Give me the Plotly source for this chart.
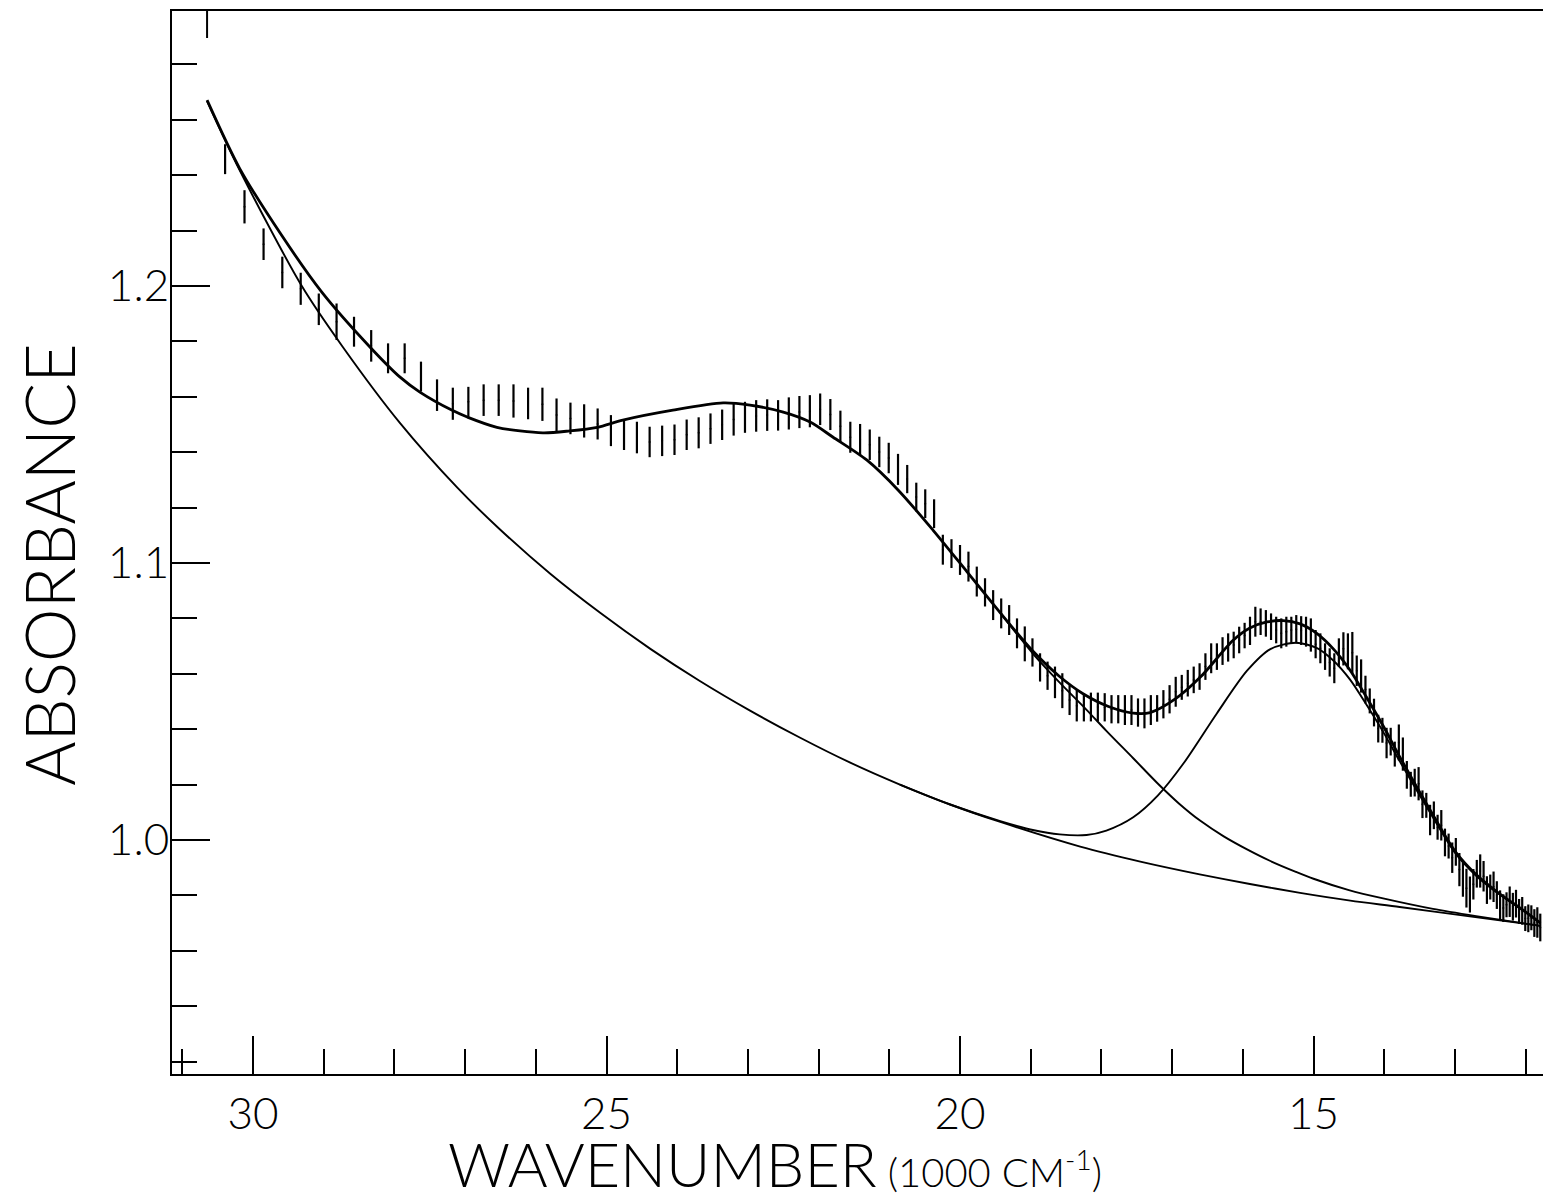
import plotly.graph_objects as go

# ---- measured spectrum: wavelength grid (nm), absorbance and error half-widths ----
wavelength_nm = [
    329, 332, 335, 338, 341, 344, 347, 350, 353, 356, 359, 362, 365, 368, 371,
    374, 377, 380, 383, 386, 389, 392, 395, 398, 401, 404, 407, 410, 413, 416,
    419, 422, 425, 428, 431, 434, 437, 440, 443, 446, 449, 452, 455, 458, 461,
    464, 467, 470, 473, 476, 479, 482, 485, 488, 491, 494, 497, 500, 503, 506,
    509, 512, 515, 518, 521, 524, 527, 530, 533, 536, 539, 542, 545, 548, 551,
    554, 557, 560, 563, 566, 569, 572, 575, 578, 581, 584, 587, 590, 593, 596,
    599, 602, 605, 608, 611, 614, 617, 620, 623, 626, 629, 632, 635, 638, 641,
    644, 647, 650, 653, 656, 659, 662, 665, 668, 671, 674, 677, 680, 683, 686,
    689, 692, 695, 698, 701, 704, 707, 710, 713, 716, 719, 722, 725, 728, 731,
    734, 737, 740, 743, 746, 749, 752, 755, 758, 761, 764, 767, 770, 773, 776,
    779, 782, 785, 788, 791, 794, 797, 800, 803, 806, 809, 812, 815, 818, 821,
    824, 827, 830, 833, 836, 839, 842, 845, 848,
]

absorbance = [
    1.2458, 1.2286, 1.2151, 1.2049, 1.1990, 1.1916, 1.1871, 1.1835, 1.1784, 1.1739,
    1.1739, 1.1673, 1.1606, 1.1575, 1.1582, 1.1588, 1.1588, 1.1585, 1.1576, 1.1573,
    1.1534, 1.1522, 1.1513, 1.1502, 1.1478, 1.1464, 1.1453, 1.1437, 1.1441, 1.1445,
    1.1463, 1.1470, 1.1485, 1.1499, 1.1518, 1.1526, 1.1531, 1.1534, 1.1533, 1.1540,
    1.1545, 1.1548, 1.1555, 1.1536, 1.1494, 1.1454, 1.1446, 1.1427, 1.1401, 1.1379,
    1.1338, 1.1303, 1.1238, 1.1214, 1.1178, 1.1048, 1.1034, 1.1011, 1.0987, 1.0933,
    1.0894, 1.0848, 1.0818, 1.0794, 1.0746, 1.0708, 1.0677, 1.0623, 1.0593, 1.0569,
    1.0539, 1.0505, 1.0485, 1.0479, 1.0480, 1.0480, 1.0479, 1.0472, 1.0472, 1.0469,
    1.0469, 1.0460, 1.0457, 1.0469, 1.0475, 1.0490, 1.0508, 1.0535, 1.0551, 1.0566,
    1.0578, 1.0590, 1.0626, 1.0656, 1.0662, 1.0682, 1.0695, 1.0704, 1.0722, 1.0738,
    1.0755, 1.0788, 1.0788, 1.0782, 1.0770, 1.0758, 1.0746, 1.0752, 1.0758, 1.0761,
    1.0756, 1.0752, 1.0740, 1.0707, 1.0692, 1.0662, 1.0641, 1.0620, 1.0677, 1.0690,
    1.0681, 1.0676, 1.0611, 1.0592, 1.0543, 1.0502, 1.0460, 1.0402, 1.0396, 1.0350,
    1.0355, 1.0310, 1.0352, 1.0310, 1.0235, 1.0201, 1.0207, 1.0203, 1.0129, 1.0125,
    1.0072, 1.0089, 1.0046, 1.0053, 0.9991, 0.9978, 0.9936, 0.9957, 0.9893, 0.9860,
    0.9826, 0.9803, 0.9840, 0.9878, 0.9888, 0.9869, 0.9819, 0.9830, 0.9831, 0.9801,
    0.9763, 0.9754, 0.9766, 0.9777, 0.9759, 0.9770, 0.9742, 0.9744, 0.9716, 0.9717,
    0.9719, 0.9700, 0.9702, 0.9684,
]

absorbance_err = [
    0.0054, 0.0060, 0.0057, 0.0057, 0.0058, 0.0057, 0.0066, 0.0054, 0.0057, 0.0054,
    0.0054, 0.0054, 0.0057, 0.0058, 0.0054, 0.0057, 0.0057, 0.0060, 0.0057, 0.0060,
    0.0060, 0.0057, 0.0060, 0.0056, 0.0056, 0.0056, 0.0057, 0.0055, 0.0055, 0.0055,
    0.0055, 0.0056, 0.0055, 0.0055, 0.0058, 0.0056, 0.0057, 0.0057, 0.0055, 0.0058,
    0.0058, 0.0058, 0.0057, 0.0056, 0.0056, 0.0056, 0.0056, 0.0055, 0.0055, 0.0055,
    0.0056, 0.0051, 0.0052, 0.0052, 0.0052, 0.0054, 0.0052, 0.0054, 0.0054, 0.0054,
    0.0051, 0.0054, 0.0054, 0.0054, 0.0054, 0.0063, 0.0051, 0.0051, 0.0051, 0.0057,
    0.0063, 0.0054, 0.0057, 0.0051, 0.0052, 0.0052, 0.0051, 0.0051, 0.0051, 0.0054,
    0.0054, 0.0051, 0.0054, 0.0054, 0.0048, 0.0051, 0.0051, 0.0054, 0.0045, 0.0048,
    0.0048, 0.0048, 0.0048, 0.0054, 0.0048, 0.0050, 0.0051, 0.0048, 0.0048, 0.0046,
    0.0051, 0.0054, 0.0048, 0.0048, 0.0048, 0.0048, 0.0054, 0.0054, 0.0048, 0.0051,
    0.0052, 0.0054, 0.0060, 0.0051, 0.0054, 0.0048, 0.0051, 0.0054, 0.0051, 0.0060,
    0.0065, 0.0075, 0.0055, 0.0060, 0.0050, 0.0045, 0.0050, 0.0050, 0.0045, 0.0055,
    0.0050, 0.0045, 0.0065, 0.0060, 0.0050, 0.0045, 0.0050, 0.0060, 0.0050, 0.0045,
    0.0055, 0.0050, 0.0045, 0.0055, 0.0050, 0.0045, 0.0055, 0.0050, 0.0060, 0.0065,
    0.0070, 0.0065, 0.0055, 0.0050, 0.0060, 0.0055, 0.0050, 0.0045, 0.0055, 0.0050,
    0.0055, 0.0050, 0.0045, 0.0055, 0.0050, 0.0050, 0.0045, 0.0050, 0.0045, 0.0050,
    0.0045, 0.0050, 0.0055, 0.0050,
]

# ---- fitted model curves (wavenumber in 1000 cm-1, absorbance) ----
# total fit: background + 22 000 cm-1 band + 15 500 cm-1 band
fit_total_k = [30.65, 30.19, 29.60, 29.03, 28.35, 27.92, 27.64, 27.19, 26.97, 26.55,
               25.90, 25.52, 25.13, 24.77, 24.06, 23.35, 22.97, 22.50, 22.12, 21.80,
               21.32, 20.87, 20.38, 19.90, 19.43, 18.97, 18.60, 18.26, 17.90, 17.55,
               17.31, 16.95, 16.60, 16.14, 15.90, 15.66, 15.43, 15.19, 14.95, 14.72,
               14.48, 14.25, 14.00, 13.78, 13.31, 13.00, 12.70, 12.40, 12.00, 11.79]
fit_total_a = [1.2671, 1.2425, 1.2185, 1.1979, 1.1781, 1.1671, 1.1617, 1.1552, 1.1527, 1.1490,
               1.1470, 1.1477, 1.1490, 1.1516, 1.1552, 1.1578, 1.1570, 1.1545, 1.1509, 1.1455,
               1.1372, 1.1262, 1.1118, 1.0968, 1.0820, 1.0682, 1.0592, 1.0528, 1.0482, 1.0458,
               1.0460, 1.0510, 1.0588, 1.0720, 1.0765, 1.0787, 1.0792, 1.0780, 1.0745, 1.0690,
               1.0612, 1.0515, 1.0405, 1.0300, 1.0090, 0.9960, 0.9875, 0.9812, 0.9740, 0.9700]

# background alone
fit_base_k = [30.65, 30.19, 29.31, 28.73, 27.92, 27.11, 26.51, 25.80, 25.09, 24.38,
              23.68, 22.97, 22.26, 21.56, 20.85, 20.14, 19.43, 18.30, 17.45, 16.61,
              15.90, 15.19, 14.48, 13.78, 12.79, 11.79]
fit_base_a = [1.2668, 1.2419, 1.2000, 1.1780, 1.1505, 1.1272, 1.1122, 1.0962, 1.0820, 1.0690,
              1.0574, 1.0467, 1.0369, 1.0280, 1.0200, 1.0128, 1.0065, 0.9976, 0.9922, 0.9876,
              0.9841, 0.9809, 0.9781, 0.9758, 0.9724, 0.9690]

# background + 22 000 cm-1 band (splits from the total below 19 000 cm-1)
fit_band1_k = [19.43, 18.97, 18.59, 18.21, 17.93, 17.55, 17.20, 16.90, 16.60, 16.27,
               15.94, 15.61, 15.25, 15.00, 14.50, 14.00, 13.31, 12.70, 11.79]
fit_band1_a = [1.0820, 1.0673, 1.0568, 1.0470, 1.0394, 1.0295, 1.0203, 1.0131, 1.0069, 1.0013,
               0.9966, 0.9924, 0.9885, 0.9860, 0.9819, 0.9788, 0.9751, 0.9725, 0.9690]

# background + 15 500 cm-1 band
fit_band2_k = [20.85, 20.14, 19.43, 18.97, 18.59, 18.21, 17.93, 17.55, 17.20, 16.84,
               16.37, 15.94, 15.61, 15.25, 14.95, 14.72, 14.48, 14.25, 14.00, 13.78,
               13.31, 13.00, 12.70, 12.40, 12.00, 11.79]
fit_band2_a = [1.0200, 1.0128, 1.0068, 1.0036, 1.0020, 1.0018, 1.0034, 1.0082, 1.0161, 1.0276,
               1.0456, 1.0611, 1.0689, 1.0712, 1.0693, 1.0648, 1.0578, 1.0488, 1.0384, 1.0284,
               1.0081, 0.9954, 0.9871, 0.9809, 0.9739, 0.9700]

# axis settings
x_range = [31.146, 11.754]
y_range = [0.9155, 1.2993]
x_tickvals = [30, 25, 20, 15]
y_tickvals = [1.0, 1.1, 1.2]
y_ticktext = ["1.0", "1.1", "1.2"]

wavenumber = [1e4 / w for w in wavelength_nm]   # 1000 cm-1

FONT = "Lato"
INK = "black"

fig = go.Figure()

# error-bar data points
fig.add_trace(go.Scatter(
    x=wavenumber, y=absorbance, mode="markers",
    marker=dict(size=2, color=INK),
    error_y=dict(type="data", array=absorbance_err, symmetric=True,
                 color=INK, thickness=2.2, width=0),
    showlegend=False, hoverinfo="skip",
))

for k, a, w in [(fit_base_k, fit_base_a, 1.9),
                (fit_band1_k, fit_band1_a, 1.9),
                (fit_band2_k, fit_band2_a, 1.9),
                (fit_total_k, fit_total_a, 2.8)]:
    fig.add_trace(go.Scatter(
        x=k, y=a, mode="lines",
        line=dict(color=INK, width=w, shape="spline", smoothing=0.8),
        showlegend=False, hoverinfo="skip",
    ))

fig.update_layout(
    width=1543, height=1199,
    margin=dict(l=172, r=0, t=11, b=125, pad=0),
    paper_bgcolor="white", plot_bgcolor="white",
    font=dict(family=FONT, color=INK, weight=300),
    xaxis=dict(
        range=x_range, showgrid=False, zeroline=False,
        showline=True, linecolor=INK, linewidth=2, mirror=True,
        tickmode="array", tickvals=x_tickvals,
        ticks="inside", ticklen=38, tickwidth=2, tickcolor=INK,
        minor=dict(dtick=1, tick0=0, ticks="inside", ticklen=25,
                   tickwidth=2, tickcolor=INK),
        tickfont=dict(family=FONT, size=44, weight=300, color=INK),
        ticklabelstandoff=0,
    ),
    yaxis=dict(
        range=y_range, showgrid=False, zeroline=False,
        showline=True, linecolor=INK, linewidth=2, mirror=False,
        tickmode="array", tickvals=y_tickvals, ticktext=y_ticktext,
        ticks="inside", ticklen=38, tickwidth=2, tickcolor=INK,
        minor=dict(dtick=0.02, tick0=1.0, ticks="inside", ticklen=25,
                   tickwidth=2, tickcolor=INK),
        tickfont=dict(family=FONT, size=44, weight=300, color=INK),
        ticklabelstandoff=-8,
    ),
    shapes=[
        # start-of-fit marker on the top frame
        dict(type="line", xref="x", yref="paper",
             x0=fit_total_k[0], x1=fit_total_k[0], y0=1, y1=1 - 27 / 1063,
             line=dict(color=INK, width=2)),
    ],
    annotations=[
        dict(text="ABSORBANCE", xref="paper", yref="paper",
             x=-0.0904, y=0.4788, xanchor="center", yanchor="middle",
             textangle=-90, showarrow=False,
             font=dict(family=FONT, size=68, weight=300, color=INK)),
        dict(text="WAVENUMBER<span style='font-size:40px'> (1000 CM<sup>-1</sup>)</span>",
             xref="paper", yref="paper", x=0.1998, y=-0.048,
             xanchor="left", yanchor="top", showarrow=False,
             font=dict(family=FONT, size=61, weight=300, color=INK)),
    ],
)

fig.write_html("out.html")
